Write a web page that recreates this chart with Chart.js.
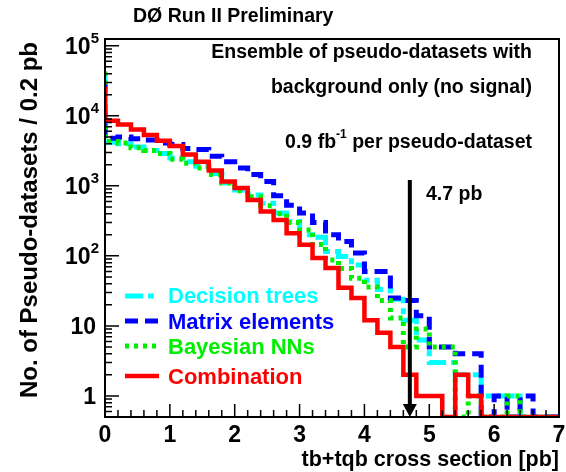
<!DOCTYPE html>
<html>
<head>
<meta charset="utf-8">
<script src="https://cdn.jsdelivr.net/npm/chart.js@4.4.1/dist/chart.umd.min.js"></script>
<style>
  html, body { margin: 0; padding: 0; background: #fff; }
</style>
</head>
<body>
<canvas id="chart" width="566" height="472"></canvas>
<script>
// bin edges of the 0.2 pb histogram
const binEdges = [0, 0.2, 0.4, 0.6, 0.8, 1.0, 1.2, 1.4, 1.6, 1.8, 2.0, 2.2, 2.4, 2.6, 2.8, 3.0, 3.2, 3.4,
  3.6, 3.8, 4.0, 4.2, 4.4, 4.6, 4.8, 5.0, 5.2, 5.4, 5.6, 5.8, 6.0, 6.2, 6.4, 6.6, 6.8, 7.0]

// entries per bin (35 bins)
const decisionTrees = [40000, 4200, 4000, 3600, 3200, 2900, 2500, 2200, 1900, 1500, 1100, 870, 740, 565, 410,
  310, 200, 185, 115, 98, 74, 45, 33, 24, 12, 6.3, 3, 3, 2, 2, 1, 1, 1, 0, 0]
const matrixElements = [29000, 4800, 5000, 4700, 4500, 4100, 3900, 3400, 3300, 2650, 2200, 1800, 1450, 1150, 720,
  530, 410, 300, 200, 160, 110, 60, 60, 25, 23, 14, 5, 5, 4, 4, 0, 1, 0, 1, 0]
const bayesianNNs = [43000, 4300, 4100, 3500, 3200, 2900, 2400, 2100, 1800, 1450, 1100, 850, 700, 520, 400,
  300, 235, 145, 87, 66, 48, 36, 23, 13, 5, 9, 5, 5, 0, 1, 0, 0, 1, 0, 0]
const combination = [26000, 8500, 7500, 6400, 5300, 4400, 3700, 2800, 2200, 1650, 1150, 930, 630, 430, 325,
  210, 144, 93, 67, 35, 25, 12, 8, 5, 2, 1, 1, 0, 2, 1, 0, 0, 0, 0, 0]

const yTicks = [1, 10, 100, 1000, 10000, 100000]
const xTicks = [0, 1, 2, 3, 4, 5, 6, 7]
const observed = 4.7

const FONT = '"Liberation Sans", Arial, Helvetica, sans-serif'
const Y_MIN = 0.5

// step histogram points, empty bins sit on the axis floor
const toSteps = vals => binEdges.map((x, i) => {
  const v = vals[Math.min(i, vals.length - 1)]
  return { x, y: v > 0 ? v : Y_MIN }
})

const series = [
  { label: 'Decision trees', data: decisionTrees, color: '#00ffff', dash: [18, 5, 6, 5], width: 5, order: 3 },
  { label: 'Matrix elements', data: matrixElements, color: '#0000ff', dash: [13, 7], width: 5, order: 2 },
  { label: 'Bayesian NNs', data: bayesianNNs, color: '#00ee00', dash: [4, 5], width: 5, order: 1 },
  { label: 'Combination', data: combination, color: '#ff0000', dash: [], width: 4.5, order: 0 }
]

// frame, ticks, labels, texts, arrow and legend in ROOT style
const rootStyle = {
  id: 'rootStyle',
  afterDraw (chart) {
    const ctx = chart.ctx
    const { left, right, top, bottom } = chart.chartArea
    const xs = chart.scales.x
    const ys = chart.scales.y
    ctx.save()
    ctx.strokeStyle = '#000'
    ctx.fillStyle = '#000'

    // arrow at observed value
    const ax = xs.getPixelForValue(observed)
    ctx.lineWidth = 4
    ctx.beginPath()
    ctx.moveTo(ax, 180)
    ctx.lineTo(ax, bottom - 10)
    ctx.stroke()
    ctx.beginPath()
    ctx.moveTo(ax - 7, bottom - 13)
    ctx.lineTo(ax + 7, bottom - 13)
    ctx.lineTo(ax, bottom)
    ctx.closePath()
    ctx.fill()

    // frame
    ctx.lineWidth = 2
    ctx.strokeRect(left, top, right - left, bottom - top)

    // y ticks (inside)
    ctx.lineWidth = 1.5
    ctx.beginPath()
    for (let e = -1; e <= 5; e++) {
      for (let m = 1; m <= 9; m++) {
        const v = m * Math.pow(10, e)
        if (v < Y_MIN || v > ys.max) continue
        const py = ys.getPixelForValue(v)
        const len = m === 1 ? 14 : 7
        ctx.moveTo(left, py)
        ctx.lineTo(left + len, py)
      }
    }
    // x ticks (inside)
    for (let i = 0; i < binEdges.length; i++) {
      const px = xs.getPixelForValue(binEdges[i])
      const len = i % 5 === 0 ? 13 : 7
      ctx.moveTo(px, bottom)
      ctx.lineTo(px, bottom - len)
    }
    ctx.stroke()

    // x tick labels
    ctx.font = `bold 23px ${FONT}`
    ctx.textAlign = 'center'
    ctx.textBaseline = 'middle'
    xTicks.forEach(t => ctx.fillText(String(t), xs.getPixelForValue(t), bottom + 19))

    // y tick labels, 10^n with raised exponent
    yTicks.forEach(t => {
      const py = ys.getPixelForValue(t)
      const exp = Math.round(Math.log10(t))
      ctx.textBaseline = 'alphabetic'
      ctx.textAlign = 'right'
      if (exp < 2) {
        ctx.font = `bold 23px ${FONT}`
        ctx.fillText(String(t), 96, py + 8)
      } else {
        ctx.font = `bold 15px ${FONT}`
        const ew = ctx.measureText(String(exp)).width
        ctx.fillText(String(exp), 99, py - 3)
        ctx.font = `bold 23px ${FONT}`
        ctx.fillText('10', 99 - ew, py + 8)
      }
    })

    // axis titles
    ctx.font = `bold 21.5px ${FONT}`
    ctx.textAlign = 'right'
    ctx.textBaseline = 'alphabetic'
    ctx.fillText('tb+tqb cross section [pb]', right, 466)
    ctx.save()
    ctx.translate(30, 220)
    ctx.rotate(-Math.PI / 2)
    ctx.textAlign = 'center'
    ctx.textBaseline = 'middle'
    ctx.font = `bold 24px ${FONT}`
    ctx.fillText('No. of Pseudo-datasets / 0.2 pb', 0, 0)
    ctx.restore()

    // header
    ctx.font = `bold 19.5px ${FONT}`
    ctx.textAlign = 'left'
    ctx.textBaseline = 'middle'
    ctx.fillText('D\u00d8 Run II Preliminary', 133, 17)

    // text box lines
    const big = `bold 19.5px ${FONT}`
    ctx.font = big
    ctx.textAlign = 'right'
    ctx.fillText('Ensemble of pseudo-datasets with', 532, 53)
    ctx.fillText('background only (no signal)', 532, 88)
    const tail = ' per pseudo-dataset'
    const tw = ctx.measureText(tail).width
    ctx.fillText(tail, 532, 143)
    ctx.font = `bold 12px ${FONT}`
    const sw = ctx.measureText('-1').width
    ctx.fillText('-1', 532 - tw, 135)
    ctx.font = big
    ctx.fillText('0.9 fb', 532 - tw - sw, 143)

    ctx.textAlign = 'left'
    ctx.fillText('4.7 pb', 426, 195)

    // legend
    const rows = [296, 321, 346, 376]
    const textRows = [297, 323, 348, 378]
    series.forEach((s, i) => {
      ctx.strokeStyle = s.color
      ctx.lineWidth = s.width
      ctx.setLineDash(s.dash)
      ctx.beginPath()
      ctx.moveTo(125, rows[i])
      ctx.lineTo(159, rows[i])
      ctx.stroke()
      ctx.setLineDash([])
      ctx.fillStyle = s.color
      ctx.font = `bold 22px ${FONT}`
      ctx.textBaseline = 'middle'
      ctx.fillText(s.label, 168, textRows[i])
    })
    ctx.restore()
  }
}

const ctx = document.querySelector('#chart').getContext('2d')
const myChart = new Chart(ctx, {
  type: 'line',
  data: {
    datasets: series.map(s => ({
      label: s.label,
      data: toSteps(s.data),
      borderColor: s.color,
      backgroundColor: s.color,
      borderWidth: s.width,
      borderDash: s.dash,
      stepped: 'after',
      fill: false,
      pointRadius: 0,
      order: s.order
    }))
  },
  options: {
    responsive: false,
    animation: false,
    layout: { padding: { left: 105, right: 7, top: 39, bottom: 55 } },
    scales: {
      x: { type: 'linear', min: 0, max: 7, display: false },
      y: { type: 'logarithmic', min: Y_MIN, max: 1.25e5, display: false }
    },
    plugins: {
      legend: { display: false },
      tooltip: { enabled: false }
    }
  },
  plugins: [rootStyle]
})
</script>
</body>
</html>
